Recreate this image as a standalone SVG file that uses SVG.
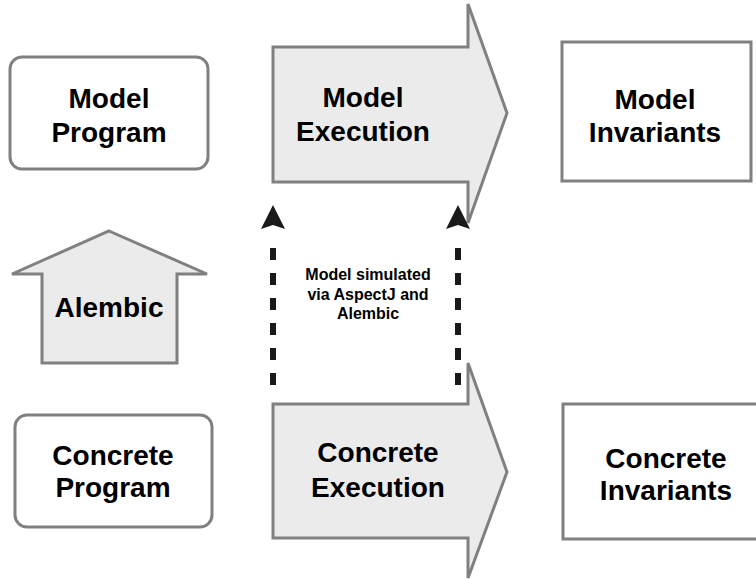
<svg xmlns="http://www.w3.org/2000/svg" width="756" height="579" viewBox="0 0 756 579">
<style>
.box{fill:#ffffff;stroke:#808080;stroke-width:3}
.arr{fill:#ebebeb;stroke:#808080;stroke-width:3;stroke-linejoin:miter}
.t{font-family:"Liberation Sans",Arial,sans-serif;font-weight:bold;font-size:28px;fill:#000;text-anchor:middle}
.s{font-family:"Liberation Sans",Arial,sans-serif;font-weight:bold;font-size:16px;fill:#000;text-anchor:middle}
.dash{stroke:#1a1a1a;stroke-width:6;stroke-dasharray:12 13;fill:none}
.head{fill:#1a1a1a}
</style>
<rect width="756" height="579" fill="#ffffff"/>
<g id="model-program">
<rect class="box" x="10" y="57" width="198" height="112" rx="12"/>
<text class="t" x="109" y="108">Model</text>
<text class="t" x="109" y="142">Program</text>
</g>
<g id="model-execution">
<path class="arr" d="M273,47 H468 V4 L507,113 L468,223 V182 H273 Z"/>
<text class="t" x="363" y="107">Model</text>
<text class="t" x="363" y="141">Execution</text>
</g>
<g id="model-invariants">
<rect class="box" x="562" y="42" width="189" height="139"/>
<text class="t" x="655" y="109">Model</text>
<text class="t" x="655" y="142">Invariants</text>
</g>
<g id="alembic">
<path class="arr" d="M109,231 L207,274 H177 V363 H42 V274 H12 Z"/>
<text class="t" x="109" y="317">Alembic</text>
</g>
<g id="concrete-program">
<rect class="box" x="15" y="415" width="197" height="112" rx="12"/>
<text class="t" x="113" y="465">Concrete</text>
<text class="t" x="113" y="497">Program</text>
</g>
<g id="concrete-execution">
<path class="arr" d="M273,404 H468 V363 L507,472 L468,578 V538 H273 Z"/>
<text class="t" x="378" y="462">Concrete</text>
<text class="t" x="378" y="497">Execution</text>
</g>
<g id="concrete-invariants">
<rect class="box" x="563" y="404" width="200" height="135"/>
<text class="t" x="666" y="468">Concrete</text>
<text class="t" x="666" y="500">Invariants</text>
</g>
<g id="connectors">
<path class="dash" d="M273,385 V245"/>
<path class="head" d="M273,205 L285,229 L273,225 L261,229 Z"/>
<path class="dash" d="M458,385 V245"/>
<path class="head" d="M458,205 L470,229 L458,225 L446,229 Z"/>
<text class="s" x="368" y="280">Model simulated</text>
<text class="s" x="368" y="300">via AspectJ and</text>
<text class="s" x="368" y="319">Alembic</text>
</g>
</svg>
